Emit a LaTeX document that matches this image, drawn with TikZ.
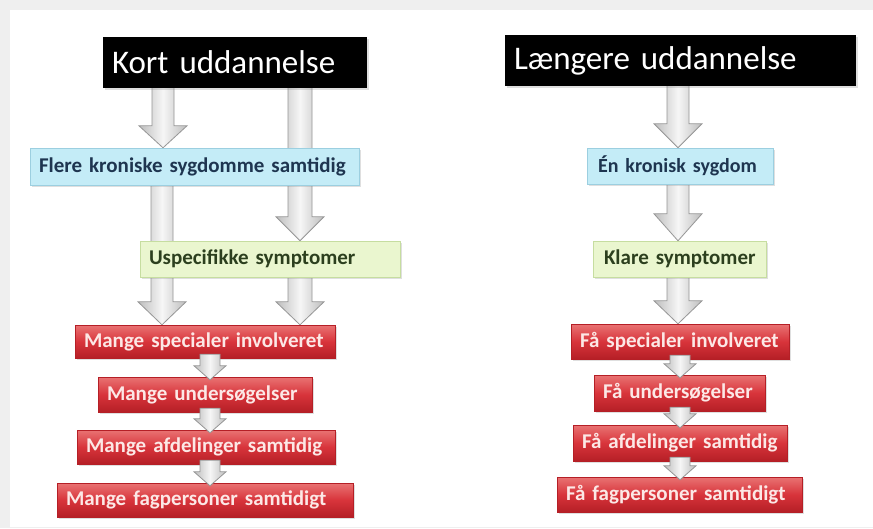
\documentclass[tikz,border=0pt]{standalone}
\usepackage{fontspec}
\setmainfont{Carlito}
\usetikzlibrary{shadows,backgrounds,calc}

\pgfdeclarelayer{bottom}
\pgfsetlayers{bottom,background,main}

\definecolor{frame}{HTML}{EFEFEF}
\definecolor{bluefill}{HTML}{C4ECF7}
\definecolor{blueedge}{HTML}{9CCFE0}
\definecolor{bluetext}{HTML}{1E3550}
\definecolor{greenfill}{HTML}{EAF6CF}
\definecolor{greenedge}{HTML}{C6DDA0}
\definecolor{greentext}{HTML}{2C3F1E}
\definecolor{redtop}{HTML}{E97373}
\definecolor{redmid}{HTML}{D8343B}
\definecolor{redbot}{HTML}{B51F26}
\definecolor{redtext}{HTML}{FCE8E6}
\definecolor{arrowedge}{HTML}{969696}
\definecolor{arrowside}{HTML}{BDBDBD}
\definecolor{arrowmid}{HTML}{F6F6F6}

\tikzset{
  basebox/.style={rectangle, inner xsep=9pt, inner ysep=0pt, anchor=center,
    align=left, drop shadow={opacity=0.25, shadow xshift=1.5pt, shadow yshift=-1.5pt}},
  headbox/.style={basebox, fill=black, text=white, font=\fontsize{33}{35}\selectfont},
  bluebox/.style={basebox, fill=bluefill, draw=blueedge, text=bluetext,
    font=\fontsize{21}{23}\selectfont\bfseries},
  greenbox/.style={basebox, fill=greenfill, draw=greenedge, text=greentext,
    font=\fontsize{21}{23}\selectfont\bfseries},
  redbox/.style={basebox, top color=redtop, bottom color=redbot, middle color=redmid,
    draw=redbot, text=redtext, font=\fontsize{21}{23}\selectfont\bfseries},
  blockarrow/.style={draw=arrowedge, line width=0.8pt, left color=arrowside,
    right color=arrowside, middle color=arrowmid, line join=miter},
}

% box of given width and height, text set on one line from the left edge
\newcommand{\flowbox}[6]{% #1 style, #2 name, #3 cx, #4 cy, #5 width, #6 height, then text
  \node[#1, minimum width=#5pt, minimum height=#6pt, text width={#5pt-18pt}] (#2) at (#3,#4)}

% block arrow: #1 source node, #2 target node, #3 centre x (pt),
% #4 shaft half width, #5 head half width, #6 head length,
% #7 start offset up into source, #8 tip offset down into target
\newcommand{\blockarrow}[8]{%
  \path[blockarrow] let \p1=(#1.south), \p2=(#2.north) in
    ({#3pt-#4pt},{\y1+#7pt}) -- ({#3pt+#4pt},{\y1+#7pt})
    -- ({#3pt+#4pt},{\y2-#8pt+#6pt}) -- ({#3pt+#5pt},{\y2-#8pt+#6pt})
    -- ({#3pt},{\y2-#8pt}) -- ({#3pt-#5pt},{\y2-#8pt+#6pt})
    -- ({#3pt-#4pt},{\y2-#8pt+#6pt}) -- cycle;}

\begin{document}
\begin{tikzpicture}[x=1pt, y=-1pt]
  % page frame
  \begin{pgfonlayer}{bottom}
    \fill[frame] (0,0) rectangle (873,528);
    \fill[white] (10,10) rectangle (873,527);
  \end{pgfonlayer}
  \useasboundingbox (0,0) rectangle (873,528);

  % left column: short education
  \flowbox{headbox}{kort}{235}{62.5}{264}{51} {\mbox{Kort uddannelse}};
  \flowbox{bluebox}{flere}{194.5}{166.5}{329}{37} {\mbox{Flere kroniske sygdomme samtidig}};
  \flowbox{greenbox}{uspec}{270}{259}{260}{36} {\mbox{Uspecifikke symptomer}};
  \flowbox{redbox}{mspec}{205}{341.5}{260}{33} {\mbox{Mange specialer involveret}};
  \flowbox{redbox}{mund}{205}{394.5}{214}{35} {\mbox{Mange undersøgelser}};
  \flowbox{redbox}{mafd}{206}{447}{258}{34} {\mbox{Mange afdelinger samtidig}};
  \flowbox{redbox}{mfag}{205}{500}{296}{34} {\mbox{Mange fagpersoner samtidigt}};

  % right column: longer education
  \flowbox{headbox}{laeng}{680.5}{60.5}{351}{51} {\mbox{Længere uddannelse}};
  \flowbox{bluebox}{en}{680}{166}{186}{36} {\mbox{\hspace{2pt}\fontsize{20}{22}\selectfont Én kronisk sygdom}};
  \flowbox{greenbox}{klare}{679.5}{259}{173}{36} {\mbox{\hspace{2pt}Klare symptomer}};
  \flowbox{redbox}{fspec}{680}{341.5}{218}{35} {\mbox{Få specialer involveret}};
  \flowbox{redbox}{fund}{679.5}{393}{171}{36} {\mbox{Få undersøgelser}};
  \flowbox{redbox}{fafd}{680}{443}{214}{36} {\mbox{Få afdelinger samtidig}};
  \flowbox{redbox}{ffag}{679.5}{494.5}{245}{35} {\mbox{Få fagpersoner samtidigt}};

  % large arrows run behind the boxes
  \begin{pgfonlayer}{background}
    \blockarrow{kort}{flere}{163}{11}{24}{22}{2}{0}
    \blockarrow{kort}{uspec}{300}{12}{24}{24}{2}{0}
    \blockarrow{flere}{mspec}{162}{11}{24}{23}{2}{0}
    \blockarrow{uspec}{mspec}{300}{12}{24}{23}{2}{0}
    \blockarrow{laeng}{en}{678}{11}{24}{24}{2}{0}
    \blockarrow{en}{klare}{678}{11}{24}{27}{2}{0}
    \blockarrow{klare}{fspec}{678}{11}{24}{23}{2}{0}
  \end{pgfonlayer}

  % small arrows sit on top of the red boxes
  \blockarrow{mspec}{mund}{210}{10}{16}{14}{4}{3}
  \blockarrow{mund}{mafd}{210}{10}{16}{14}{4}{3}
  \blockarrow{mafd}{mfag}{210}{10}{16}{14}{4}{3}
  \blockarrow{fspec}{fund}{680}{10}{16}{14}{4}{3}
  \blockarrow{fund}{fafd}{680}{10}{16}{14}{4}{3}
  \blockarrow{fafd}{ffag}{680}{10}{16}{14}{4}{3}
\end{tikzpicture}
\end{document}
